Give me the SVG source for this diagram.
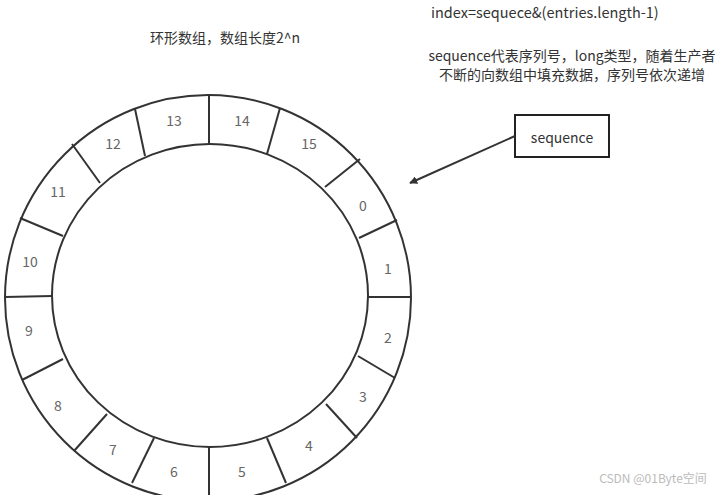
<svg xmlns="http://www.w3.org/2000/svg" width="723" height="495" viewBox="0 0 723 495">
<style>
.t{font-family:"Noto Sans CJK SC","Noto Sans",sans-serif;font-size:14px;fill:#333}
.n{font-family:"Noto Sans CJK SC","Noto Sans",sans-serif;font-size:14px;fill:#666;text-anchor:middle;dominant-baseline:central}
.r{fill:none;stroke:#333;stroke-width:2}
.d{stroke:#333;stroke-width:2}
.c{stroke:#333;stroke-width:2;fill:none}
</style>
<defs>
<marker id="ah" viewBox="0 0 10 10" refX="9" refY="5" markerWidth="8" markerHeight="8" markerUnits="userSpaceOnUse" orient="auto">
<path d="M0,0 L10,5 L0,10 z" fill="#333"/>
</marker>
</defs>
<rect width="723" height="495" fill="#fff"/>
<text class="t" x="150" y="43" fill="#444">环形数组，数组长度2^n</text>
<text class="t" x="431" y="18" style="font-size:14.5px">index=sequece&amp;(entries.length-1)</text>
<text class="t" x="572" y="61" text-anchor="middle">sequence代表序列号，long类型，随着生产者</text>
<text class="t" x="572" y="80" text-anchor="middle">不断的向数组中填充数据，序列号依次递增</text>
<g id="ring">
<ellipse class="r" cx="208" cy="298" rx="203" ry="203"/>
<ellipse class="r" cx="210" cy="295.5" rx="158" ry="151.5"/>
</g>
<g id="cell-0"><line class="d" x1="325" y1="187" x2="360" y2="159"/><text class="n" x="363" y="205">0</text></g>
<g id="cell-1"><line class="d" x1="359" y1="238" x2="397" y2="220"/><text class="n" x="388" y="268">1</text></g>
<g id="cell-2"><line class="d" x1="368" y1="297" x2="411" y2="297"/><text class="n" x="388" y="337">2</text></g>
<g id="cell-3"><line class="d" x1="358" y1="356" x2="395" y2="378"/><text class="n" x="363" y="396">3</text></g>
<g id="cell-4"><line class="d" x1="326" y1="404" x2="357" y2="438"/><text class="n" x="309" y="445">4</text></g>
<g id="cell-5"><line class="d" x1="267" y1="438" x2="286" y2="483"/><text class="n" x="242" y="471">5</text></g>
<g id="cell-6"><line class="d" x1="209" y1="447" x2="209" y2="495"/><text class="n" x="174" y="471">6</text></g>
<g id="cell-7"><line class="d" x1="154" y1="438" x2="132" y2="483"/><text class="n" x="113" y="449">7</text></g>
<g id="cell-8"><line class="d" x1="107" y1="414" x2="74" y2="451"/><text class="n" x="58" y="405">8</text></g>
<g id="cell-9"><line class="d" x1="63" y1="359" x2="22" y2="380"/><text class="n" x="29" y="330">9</text></g>
<g id="cell-10"><line class="d" x1="52" y1="296" x2="5" y2="297"/><text class="n" x="30" y="261">10</text></g>
<g id="cell-11"><line class="d" x1="63" y1="236" x2="20" y2="218"/><text class="n" x="58" y="191">11</text></g>
<g id="cell-12"><line class="d" x1="100" y1="183" x2="72" y2="144"/><text class="n" x="113" y="143">12</text></g>
<g id="cell-13"><line class="d" x1="145" y1="156" x2="135" y2="109"/><text class="n" x="174" y="120">13</text></g>
<g id="cell-14"><line class="d" x1="209" y1="144" x2="209" y2="95"/><text class="n" x="242" y="120">14</text></g>
<g id="cell-15"><line class="d" x1="267" y1="154" x2="280" y2="108"/><text class="n" x="309" y="143">15</text></g>
<g id="sequence">
<rect x="515" y="115" width="94" height="42" fill="#fff" stroke="#222" stroke-width="2"/>
<text class="t" x="562" y="137" text-anchor="middle" dominant-baseline="central">sequence</text>
</g>
<g id="connectors">
<line class="c" x1="515" y1="136" x2="410" y2="183" marker-end="url(#ah)"/>
</g>
<text x="653" y="483" text-anchor="middle" font-family="Noto Sans CJK SC,Noto Sans,sans-serif" font-size="12" fill="#bbb">CSDN @01Byte空间</text>
</svg>
